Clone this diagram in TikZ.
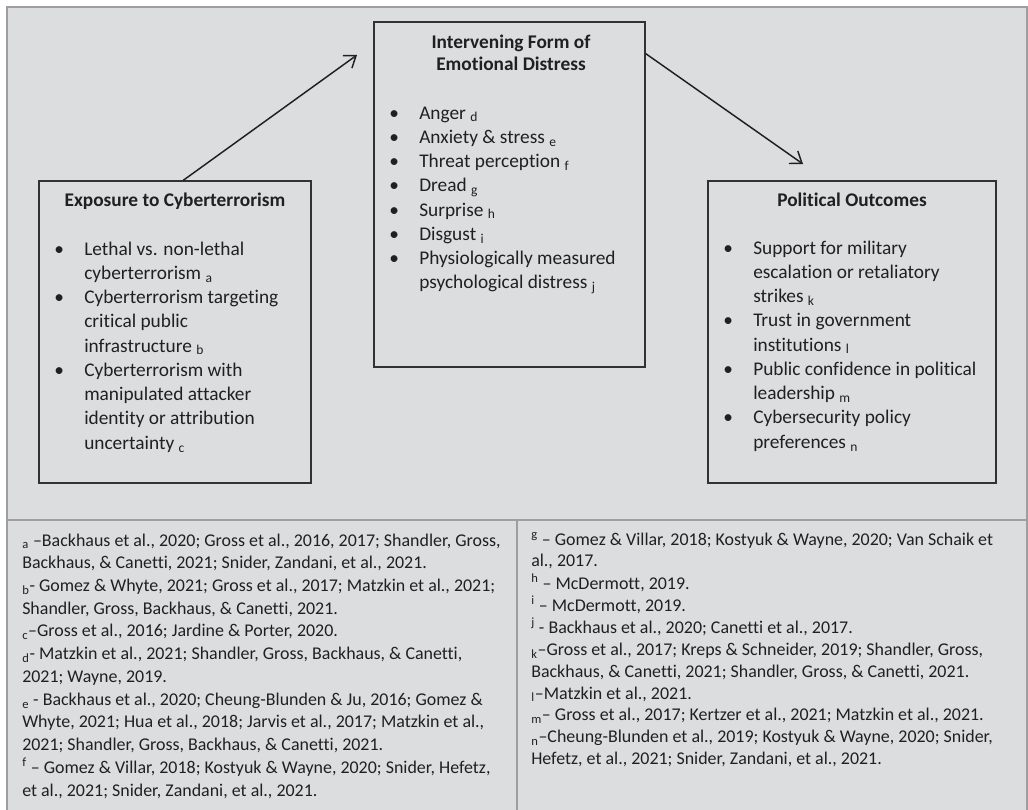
\documentclass[tikz,border=0pt]{standalone}
\usepackage{fontspec}
\setmainfont{Carlito}[Ligatures={NoCommon}]
\usetikzlibrary{arrows.meta,fit,calc}

\definecolor{panelgray}{RGB}{220,221,223}
\definecolor{rulegray}{RGB}{158,158,160}
\definecolor{boxline}{RGB}{50,50,52}
\definecolor{ink}{RGB}{32,32,34}

% bullet column and continuation indent
\newcommand\bl{\makebox[22.5pt][l]{\textbullet}}
\newcommand\ind{\hspace*{22.5pt}}
% a block of lines whose baseline is the first line
\newcommand\textlines[1]{\begin{tabular}[t]{@{}l@{}}#1\end{tabular}}
\newcommand\ctrlines[1]{\begin{tabular}[t]{@{}c@{}}#1\end{tabular}}

\tikzset{
  boxframe/.style={draw=boxline, line width=0.95pt, inner sep=0pt},
  flowarrow/.style={draw=ink, line width=1.1pt,
    -{Straight Barb[length=7.9pt,width=11.5pt,line width=1.1pt]}},
  txt/.style={inner sep=0pt, text=ink},
  bigfont/.style={font=\fontsize{14.5pt}{18.2pt}\selectfont},
  titlefont/.style={font=\fontsize{14.5pt}{16.5pt}\selectfont\bfseries},
  notefontL/.style={font=\fontsize{13.45pt}{17.05pt}\selectfont},
  notefontR/.style={font=\fontsize{13.45pt}{16.4pt}\selectfont},
}

\begin{document}
\begin{tikzpicture}[x=0.75pt, y=-0.75pt]
\useasboundingbox (0,0) rectangle (1028,810);

% panels
\fill[panelgray] (7,7) rectangle (1027,810);
\draw[rulegray, line width=1.5pt] (7,810) -- (7,7) -- (1027,7) -- (1027,810);
\draw[rulegray, line width=1.5pt] (7,520) -- (1027,520);
\draw[rulegray, line width=1.5pt] (517,520) -- (517,810);

% boxes
\coordinate (e1) at (39,181);  \coordinate (e2) at (311,483);
\coordinate (m1) at (374,22);  \coordinate (m2) at (645,367);
\coordinate (p1) at (708,181); \coordinate (p2) at (996,483);
\node[boxframe, fit=(e1)(e2)] (expo) {};
\node[boxframe, fit=(m1)(m2)] (emo) {};
\node[boxframe, fit=(p1)(p2)] (pol) {};

% connectors
\coordinate (tipA) at (357,55);
\coordinate (tipB) at (803,164);
\draw[flowarrow] ($(expo.north west)!0.53!(expo.north east)$) -- (tipA);
\draw[flowarrow] ($(emo.north east)!0.093!(emo.south east)$) -- (tipB);

% box titles
\node[txt, titlefont, anchor=base] (expoT) at (175,206) {Exposure to Cyberterrorism};
\node[txt, titlefont, anchor=base] (emoT) at (511,48)
  {\ctrlines{Intervening Form of\\ Emotional Distress}};
\node[txt, titlefont, anchor=base] (polT) at (852,206) {Political Outcomes};

% box contents
\node[txt, bigfont, anchor=base west] (expoL) at (54,255) {\textlines{%
\bl Lethal vs. non-lethal\\
\ind cyberterrorism \textsubscript{a}\\
\bl Cyberterrorism targeting\\
\ind critical public\\
\ind infrastructure \textsubscript{b}\\
\bl Cyberterrorism with\\
\ind manipulated attacker\\
\ind identity or attribution\\
\ind uncertainty \textsubscript{c}}};

\node[txt, bigfont, anchor=base west] (emoL) at (389,119) {\textlines{%
\bl Anger \textsubscript{d}\\
\bl Anxiety \& stress \textsubscript{e}\\
\bl Threat perception \textsubscript{f}\\
\bl Dread \textsubscript{g}\\
\bl Surprise \textsubscript{h}\\
\bl Disgust \textsubscript{i}\\
\bl Physiologically measured\\
\ind psychological distress \textsubscript{j}}};

\node[txt, bigfont, anchor=base west] (polL) at (723,254) {\textlines{%
\bl Support for military\\
\ind escalation or retaliatory\\
\ind strikes \textsubscript{k}\\
\bl Trust in government\\
\ind institutions \textsubscript{l}\\
\bl Public confidence in political\\
\ind leadership \textsubscript{m}\\
\bl Cybersecurity policy\\
\ind preferences \textsubscript{n}}};

% reference notes
\node[txt, notefontL, anchor=base west] (notesL) at (22,546) {\textlines{%
\textsubscript{a} –Backhaus et al., 2020; Gross et al., 2016, 2017; Shandler, Gross,\\
Backhaus, \& Canetti, 2021; Snider, Zandani, et al., 2021.\\
\textsubscript{b}- Gomez \& Whyte, 2021; Gross et al., 2017; Matzkin et al., 2021;\\
Shandler, Gross, Backhaus, \& Canetti, 2021.\\
\textsubscript{c}–Gross et al., 2016; Jardine \& Porter, 2020.\\
\textsubscript{d}- Matzkin et al., 2021; Shandler, Gross, Backhaus, \& Canetti,\\
2021; Wayne, 2019.\\
\textsubscript{e} - Backhaus et al., 2020; Cheung-Blunden \& Ju, 2016; Gomez \&\\
Whyte, 2021; Hua et al., 2018; Jarvis et al., 2017; Matzkin et al.,\\
2021; Shandler, Gross, Backhaus, \& Canetti, 2021.\\
\textsuperscript{f} – Gomez \& Villar, 2018; Kostyuk \& Wayne, 2020; Snider, Hefetz,\\
et al., 2021; Snider, Zandani, et al., 2021.}};

\node[txt, notefontR, anchor=base west] (notesR) at (531,545) {\textlines{%
\textsuperscript{g} – Gomez \& Villar, 2018; Kostyuk \& Wayne, 2020; Van Schaik et\\
al., 2017.\\
\textsuperscript{h} – McDermott, 2019.\\
\textsuperscript{i} – McDermott, 2019.\\
\textsuperscript{j} - Backhaus et al., 2020; Canetti et al., 2017.\\
\textsubscript{k}–Gross et al., 2017; Kreps \& Schneider, 2019; Shandler, Gross,\\
Backhaus, \& Canetti, 2021; Shandler, Gross, \& Canetti, 2021.\\
\textsubscript{l}–Matzkin et al., 2021.\\
\textsubscript{m}– Gross et al., 2017; Kertzer et al., 2021; Matzkin et al., 2021.\\
\textsubscript{n}–Cheung-Blunden et al., 2019; Kostyuk \& Wayne, 2020; Snider,\\
Hefetz, et al., 2021; Snider, Zandani, et al., 2021.}};
\end{tikzpicture}
\end{document}
